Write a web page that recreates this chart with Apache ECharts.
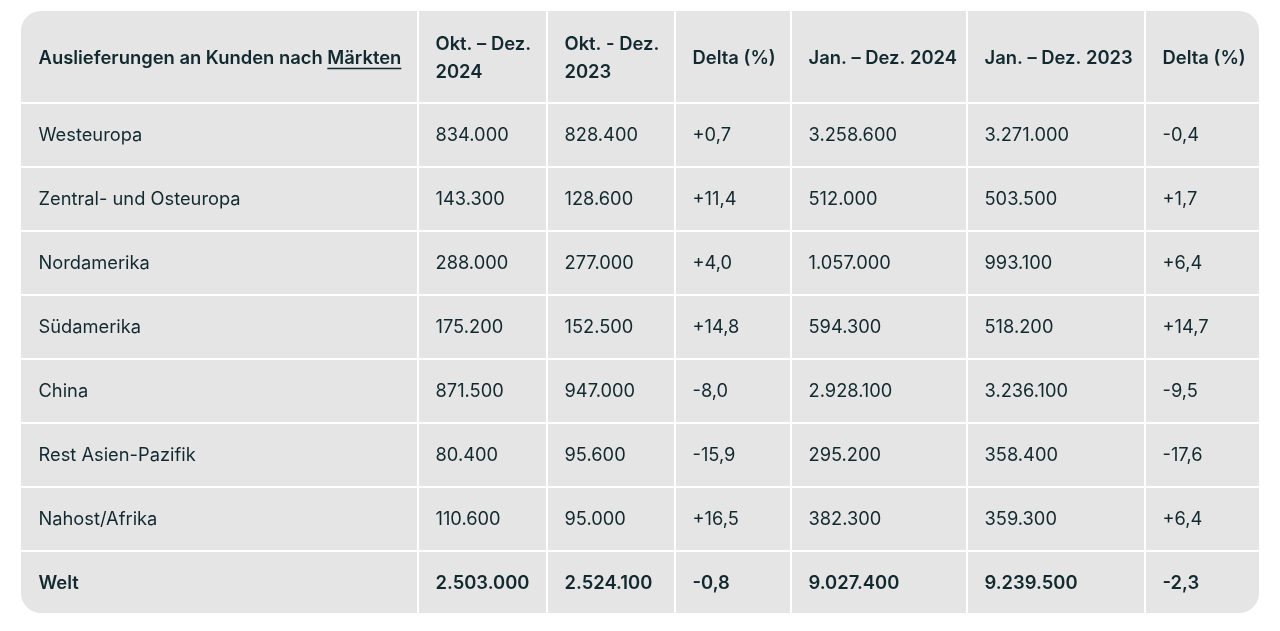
<!DOCTYPE html>
<html>
<head>
<meta charset="utf-8">
<script src="https://cdn.jsdelivr.net/npm/echarts@6/dist/echarts.min.js"></script>
<style>
html,body{margin:0;padding:0;background:#ffffff;}
#chart{width:1280px;height:631px;}
</style>
</head>
<body>
<div id="chart"></div>
<script>
// ---- data ----
const headers = ['Auslieferungen an Kunden nach ', 'Okt. – Dez.\n2024', 'Okt. - Dez.\n2023', 'Delta (%)', 'Jan. – Dez. 2024', 'Jan. – Dez. 2023', 'Delta (%)'];
const headerLink = 'Märkten';
const regions = ['Westeuropa', 'Zentral- und Osteuropa', 'Nordamerika', 'Südamerika', 'China', 'Rest Asien-Pazifik', 'Nahost/Afrika', 'Welt'];
const q4_2024 = [834000, 143300, 288000, 175200, 871500, 80400, 110600, 2503000];
const q4_2023 = [828400, 128600, 277000, 152500, 947000, 95600, 95000, 2524100];
const deltaQ  = [0.7, 11.4, 4.0, 14.8, -8.0, -15.9, 16.5, -0.8];
const fy2024  = [3258600, 512000, 1057000, 594300, 2928100, 295200, 382300, 9027400];
const fy2023  = [3271000, 503500, 993100, 518200, 3236100, 358400, 359300, 9239500];
const deltaY  = [-0.4, 1.7, 6.4, 14.7, -9.5, -17.6, 6.4, -2.3];

// ---- layout (axis units = px inside grid) ----
const colEdges = [0, 397, 526, 654, 770, 946, 1124, 1238];
const rowEdges = [0, 92, 156, 220, 284, 348, 412, 476, 540, 602];
const FONT = 'Inter, "Noto Sans", sans-serif';
const TXT = '#11292f';
const BG = '#e5e5e5';

function fmtInt(v){
  return String(v).replace(/\B(?=(\d{3})+(?!\d))/g, '.');
}
function fmtDelta(v){
  const s = Math.abs(v).toFixed(1).replace('.', ',');
  return (v >= 0 ? '+' : '-') + s;
}

const cells = [];
headers.forEach((h, c) => cells.push({col: c, row: 0, text: h, bold: true}));
regions.forEach((r, i) => {
  const bold = i === regions.length - 1;
  const vals = [r, fmtInt(q4_2024[i]), fmtInt(q4_2023[i]), fmtDelta(deltaQ[i]), fmtInt(fy2024[i]), fmtInt(fy2023[i]), fmtDelta(deltaY[i])];
  vals.forEach((t, c) => cells.push({col: c, row: i + 1, text: t, bold: bold}));
});

const measureCtx = document.createElement('canvas').getContext('2d');
function textWidth(t, weight, size){
  measureCtx.font = weight + ' ' + size + 'px ' + FONT;
  return measureCtx.measureText(t).width;
}

const chart = echarts.init(document.getElementById('chart'), null, {renderer: 'canvas'});
chart.setOption({
  animation: false,
  grid: {left: 21, top: 11, width: 1238, height: 602},
  xAxis: {type: 'value', min: 0, max: 1238, show: false},
  yAxis: {type: 'value', min: 0, max: 602, inverse: true, show: false},
  series: [
    {
      type: 'custom',
      silent: true,
      data: [[0, 0]],
      renderItem: function(params, api){
        const p0 = api.coord([colEdges[0], rowEdges[0]]);
        const p1 = api.coord([colEdges[colEdges.length - 1], rowEdges[rowEdges.length - 1]]);
        return {type: 'rect', shape: {x: p0[0], y: p0[1], width: p1[0] - p0[0], height: p1[1] - p0[1], r: 20}, style: {fill: BG}};
      },
      z: 1
    },
    {
      type: 'custom',
      silent: true,
      data: cells.map(c => [c.col, c.row]),
      renderItem: function(params, api){
        const cell = cells[params.dataIndex];
        const col = api.value(0), row = api.value(1);
        const a = api.coord([colEdges[col], rowEdges[row]]);
        const b = api.coord([colEdges[col + 1], rowEdges[row + 1]]);
        const children = [];
        if (col > 0) children.push({type: 'line', shape: {x1: a[0], y1: a[1], x2: a[0], y2: b[1]}, style: {stroke: '#ffffff', lineWidth: 2}});
        if (row > 0) children.push({type: 'line', shape: {x1: a[0], y1: a[1], x2: b[0], y2: a[1]}, style: {stroke: '#ffffff', lineWidth: 2}});
        const weight = cell.bold ? 600 : 400;
        const size = cell.bold ? 18.4 : 18.3;
        const tx = a[0] + 17.5, ty = (a[1] + b[1]) / 2 + 1;
        children.push({type: 'text', x: tx, y: ty, style: {text: cell.text, fill: TXT, font: weight + ' ' + size + 'px ' + FONT, verticalAlign: 'middle', align: 'left', lineHeight: 28}});
        if (row === 0 && col === 0) {
          const w0 = textWidth(cell.text, weight, size);
          const w1 = textWidth(headerLink, weight, size);
          children.push({type: 'text', x: tx + w0, y: ty, style: {text: headerLink, fill: TXT, font: weight + ' ' + size + 'px ' + FONT, verticalAlign: 'middle', align: 'left'}});
          children.push({type: 'line', shape: {x1: tx + w0, y1: ty + 10.5, x2: tx + w0 + w1, y2: ty + 10.5}, style: {stroke: TXT, lineWidth: 1.5}});
        }
        return {type: 'group', children: children};
      },
      z: 2
    }
  ]
});
</script>
</body>
</html>
